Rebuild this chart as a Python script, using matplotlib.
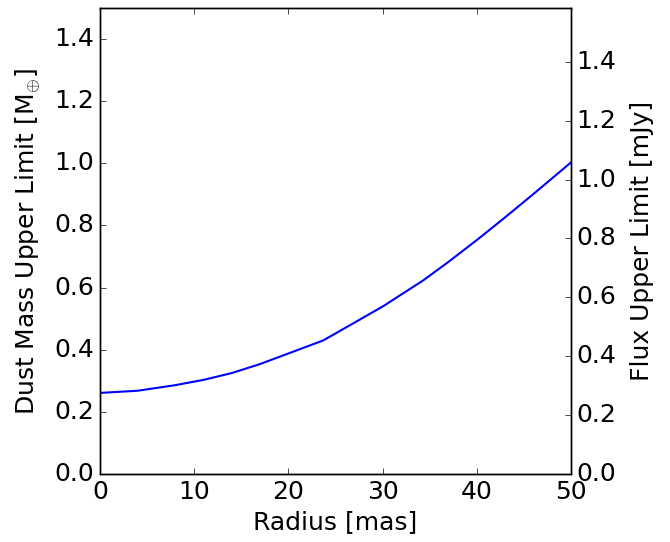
import matplotlib
matplotlib.use("Agg")
import matplotlib.pyplot as plt

plt.style.use("classic")

radius = [0, 4, 8, 11, 14, 17, 20, 23.7, 27, 30, 34.3, 37, 40, 43, 46, 50]
dust_mass = [0.261, 0.268, 0.286, 0.303, 0.325, 0.354, 0.388, 0.430, 0.487,
             0.539, 0.623, 0.683, 0.753, 0.826, 0.901, 1.003]

flux_max = 1.583
yticks = [0.0, 0.2, 0.4, 0.6, 0.8, 1.0, 1.2, 1.4]
xticks = [0, 10, 20, 30, 40, 50]

fs = 18
fig = plt.figure(figsize=(6.7, 5.42), dpi=100)
fig.patch.set_facecolor("white")
ax = fig.add_axes([100/670, (542-474)/542, 471/670, 466/542])
ax.plot(radius, dust_mass, color="blue", lw=1.5)
ax.set_xlim(0, 50)
ax.set_ylim(0, 1.5)
ax.set_xticks(xticks)
ax.set_yticks(yticks)
ax.tick_params(labelsize=fs, right=False)
ax.set_xlabel("Radius [mas]", fontsize=fs)
ax.set_ylabel(r"Dust Mass Upper Limit [M$_{\oplus}$]", fontsize=fs, labelpad=8)

ax2 = ax.twinx()
ax2.set_ylim(0, flux_max)
ax2.set_yticks(yticks)
ax2.tick_params(labelsize=fs)
ax2.set_ylabel("Flux Upper Limit [mJy]", fontsize=fs, labelpad=10)

fig.savefig("out.png", dpi=100, facecolor="white")
